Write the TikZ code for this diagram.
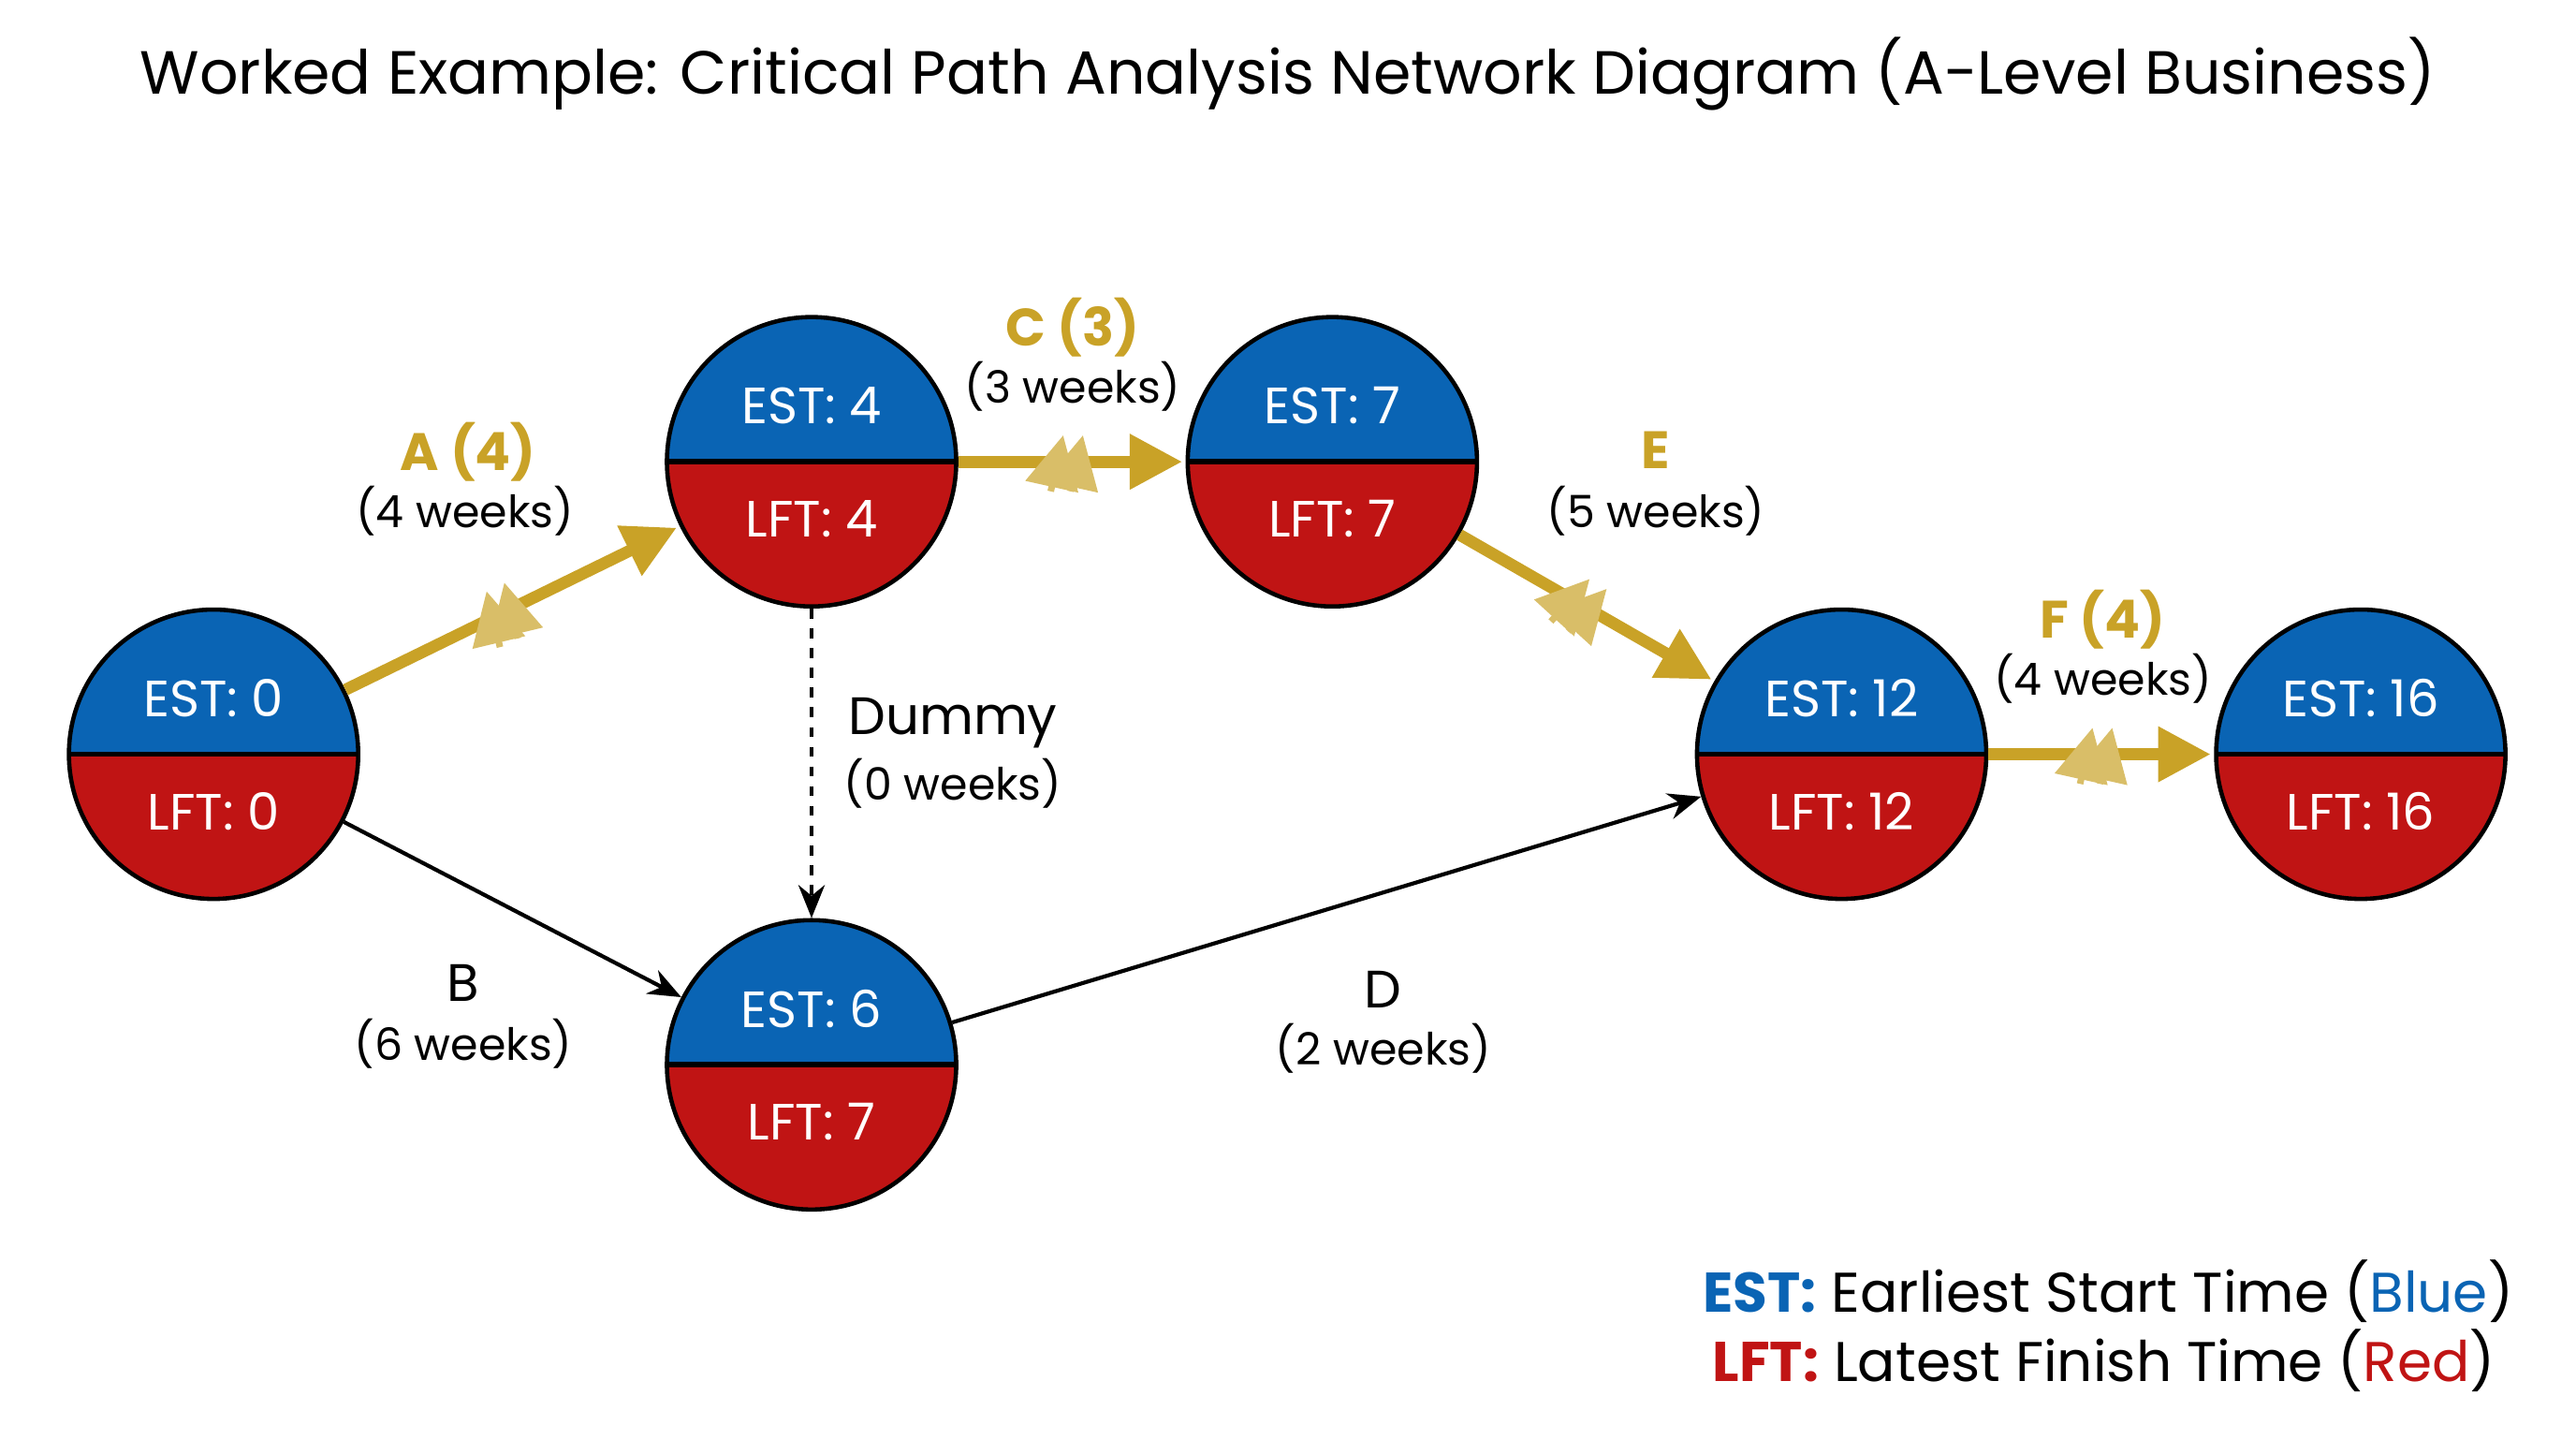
\documentclass[tikz,border=0pt]{standalone}
\usepackage{fontspec}
\setmainfont{Poppins}
\usetikzlibrary{arrows.meta,decorations.markings}
\definecolor{estblue}{HTML}{0A64B4}
\definecolor{lftred}{HTML}{C01414}
\definecolor{critgold}{HTML}{C9A227}
\tikzset{
    event/.style={circle, draw, line width=1.3pt, minimum size=3.09cm, inner sep=0pt,
        path picture={
            \fill[estblue] (path picture bounding box.west) rectangle (path picture bounding box.north east);
            \fill[lftred] (path picture bounding box.west) rectangle (path picture bounding box.south east);
            \draw[line width=1.6pt] (path picture bounding box.west) -- (path picture bounding box.east);
        }},
    etext/.style={text=white, font=\fontsize{15.5}{18}\selectfont},
    critical/.style={critgold, line width=3.6pt, -{Triangle[length=16pt,width=16pt]}, shorten >=1pt,
        postaction={decorate}, decoration={markings, mark=at position 0.45 with {
            \draw[critgold!70!white, line width=2pt] (-3pt,-9pt) -- (1pt,9pt);
            \draw[critgold!70!white, line width=2pt] (3pt,-9pt) -- (7pt,9pt);}}},
    normal/.style={black, line width=1.2pt, -{Stealth[length=10pt,width=8pt]}},
    dummy/.style={normal, dashed},
    crit label/.style={critgold, font=\bfseries\fontsize{16}{19}\selectfont},
    act label/.style={font=\fontsize{16}{19}\selectfont},
    weeks/.style={font=\fontsize{13.5}{16}\selectfont}
}
\newcommand{\eventnode}[4]{%
    \node[event] (#1) at #2 {};
    \node[etext] at ([yshift=0.6cm]#1.center) {EST: #3};
    \node[etext] at ([yshift=-0.61cm]#1.center) {LFT: #4};
}
\begin{document}
\begin{tikzpicture}[x=0.01755cm, y=-0.01755cm]
\useasboundingbox (0,0) rectangle (1568,876);

% Title
\node[font=\fontsize{18.5}{22}\selectfont] (title) at (784,45) {Worked Example: Critical Path Analysis Network Diagram (A-Level Business)};

% Events
\eventnode{start}{(130,459)}{0}{0}
\eventnode{eva}{(494,281)}{4}{4}
\eventnode{evc}{(811,281)}{7}{7}
\eventnode{eve}{(1121,459)}{12}{12}
\eventnode{evf}{(1437,459)}{16}{16}
\eventnode{evb}{(494,648)}{6}{7}

% Critical activities
\draw[critical] (start) -- (eva);
\draw[critical] (eva) -- (evc);
\draw[critical] (evc) -- (eve);
\draw[critical] (eve) -- (evf);

% Other activities
\draw[normal] (start) -- (evb);
\draw[normal] (evb) -- (eve);
\draw[dummy] (eva) -- (evb);

% Activity labels
\node[crit label] (la) at (285,275) {A (4)};
\node[weeks] (wa) at (283,311) {(4 weeks)};
\node[crit label] (lc) at (653,199) {C (3)};
\node[weeks] (wc) at (653,235) {(3 weeks)};
\node[crit label] (le) at (1008,274) {E};
\node[weeks] (we) at (1008,311) {(5 weeks)};
\node[crit label] (lf) at (1280,377) {F (4)};
\node[weeks] (wf) at (1280,413) {(4 weeks)};
\node[act label] (ld) at (580,440) {Dummy};
\node[weeks] (wd) at (580,477) {(0 weeks)};
\node[act label] (lb) at (282,598) {B};
\node[weeks] (wb) at (282,635) {(6 weeks)};
\node[act label] (ldd) at (842,602) {D};
\node[weeks] (wdd) at (842,638) {(2 weeks)};

% Legend
\node[anchor=east, font=\fontsize{17}{20}\selectfont] (key1) at (1537,786) {\textcolor{estblue}{\bfseries EST:} Earliest Start Time (\textcolor{estblue}{Blue})};
\node[anchor=east, font=\fontsize{17}{20}\selectfont] (key2) at (1526,828) {\textcolor{lftred}{\bfseries LFT:} Latest Finish Time (\textcolor{lftred}{Red})};

\end{tikzpicture}
\end{document}
